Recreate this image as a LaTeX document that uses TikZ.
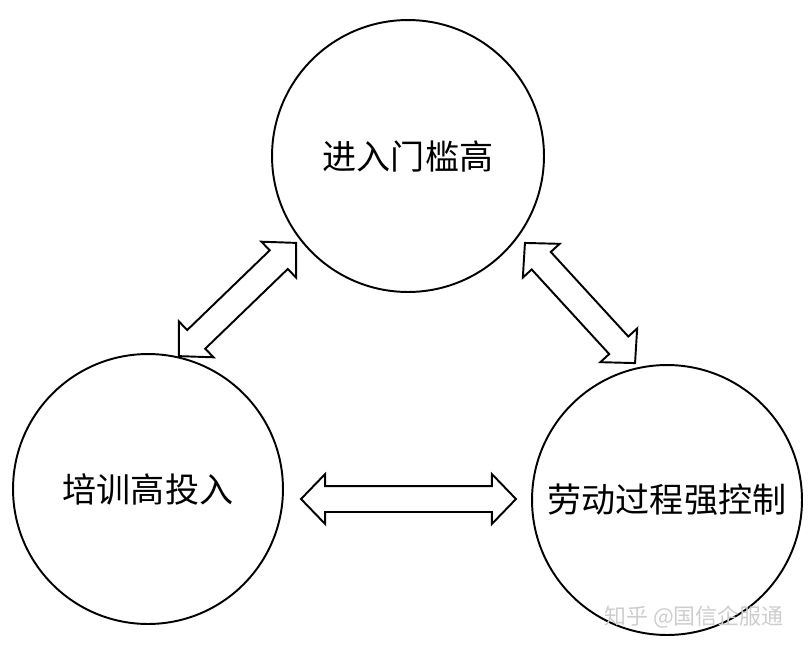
\documentclass[tikz,border=0pt]{standalone}
\usepackage{fontspec}
\newfontfamily\cjk{Noto Sans CJK SC}
\usetikzlibrary{shapes.arrows}
\definecolor{markgray}{RGB}{205,205,205}

\begin{document}
\begin{tikzpicture}[x=0.02cm, y=-0.02cm, every node/.style={font=\cjk\fontsize{19.4}{20}\selectfont},
  ring/.style={draw, circle, line width=1.1pt, inner sep=0pt},
  twoway/.style={draw, double arrow, line width=1.1pt, inner xsep=0pt, inner ysep=0.24cm,
    minimum width=0.96cm, double arrow head extend=0.24cm, double arrow tip angle=92}]
  \useasboundingbox (0,0) rectangle (812,650);
  \node[ring, minimum size=5.44cm] (gate) at (408,156) {进入门槛高};
  \node[ring, minimum size=5.4cm] (train) at (148,489) {培训高投入};
  \node[ring, minimum size=5.4cm] (labor) at (667,500) {劳动过程强控制};
  \node[twoway, minimum height=3.26cm, rotate=44] (gt) at (237.5,299.5) {};
  \node[twoway, minimum height=3.26cm, rotate=-47.5] (gl) at (580,303) {};
  \node[twoway, minimum height=4.3cm] (tl) at (408.5,499) {};
  \node[markgray, font=\cjk\fontsize{12.5}{13}\selectfont] (mark) at (694,617) {知乎 @国信企服通};
\end{tikzpicture}
\end{document}
